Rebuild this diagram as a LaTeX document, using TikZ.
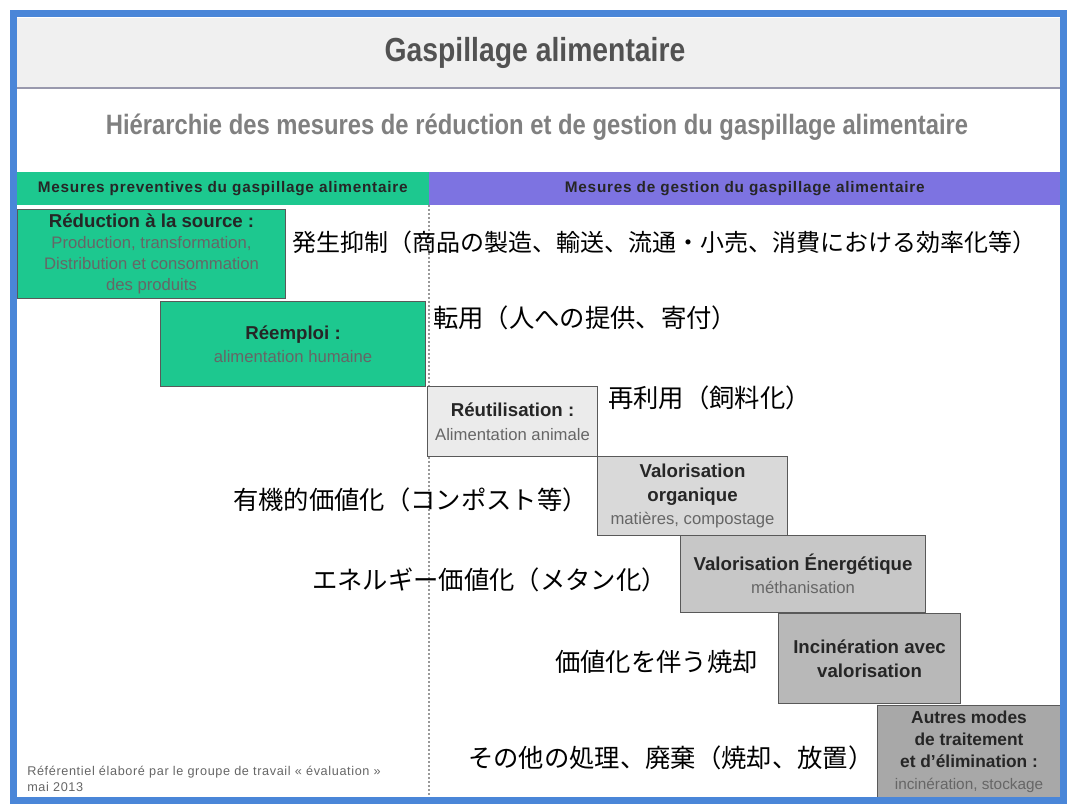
\documentclass[tikz,border=0pt]{standalone}
\usepackage{fontspec}
\setmainfont{Liberation Sans}
\newfontfamily\jpfont{Noto Sans CJK JP}
\newfontfamily\narrowfont[FakeStretch=0.85]{Liberation Sans}
\newfontfamily\spacedfont[LetterSpace=5]{Liberation Sans}
\usetikzlibrary{positioning}

\definecolor{framblue}{HTML}{4A86D8}
\definecolor{gaspgreen}{HTML}{1DC88F}
\definecolor{gasppurple}{HTML}{7D73E1}
\definecolor{titlegrey}{HTML}{F0F0F0}

\newcommand{\mainline}[1]{{\bfseries\color{black!85}#1}}
\newcommand{\subline}[1]{{\fontsize{12.5}{15}\selectfont\color{black!60}#1}}

\begin{document}
\begin{tikzpicture} [
    x=0.75pt, y=-0.75pt,
  ]

  \tikzstyle{stepbox} = [
    rectangle,
    anchor=north west,
    draw=black!65,
    line width=0.8pt,
    inner sep=0pt,
    align=center,
    font=\fontsize{14}{17.6}\selectfont,
  ]
  \tikzstyle{greenbox} = [
    stepbox,
    fill=gaspgreen,
  ]
  \tikzstyle{jplabel} = [
    anchor=west,
    inner sep=0pt,
    font=\jpfont\fontsize{19}{22}\selectfont,
  ]
  \tikzstyle{headband} = [
    rectangle,
    anchor=north west,
    inner sep=0pt,
    minimum height=24.75pt,
    font=\spacedfont\fontsize{11.5}{13}\selectfont\bfseries,
    text=black!85,
  ]

  \useasboundingbox (0,0) rectangle (1068,805);

  % frame and title band
  \fill[white] (13,14) rectangle (1063,800);
  \fill[titlegrey] (16,18) rectangle (1060,88);
  \draw[line width=1.5pt, color=blue!20!black!40] (16,88) -- (1060,88);
  \node (title) at (535,53)
    {\narrowfont\fontsize{25}{28}\selectfont\bfseries\color{black!68}Gaspillage alimentaire};
  \node (subtitle) at (537,127)
    {\narrowfont\fontsize{21}{24}\selectfont\bfseries\color{black!50}Hiérarchie des mesures de réduction et de gestion du gaspillage alimentaire};

  % header band
  \node[headband, fill=gaspgreen, minimum width=309.75pt] (prevhead) at (16,172)
    {Mesures preventives du gaspillage alimentaire};
  \node[headband, fill=gasppurple, minimum width=473.25pt] (gesthead) at (429,172)
    {Mesures de gestion du gaspillage alimentaire};

  % dotted separation
  \coordinate (septop) at (429,205);
  \coordinate (sepbot) at (429,797);
  \draw[black!40, line width=1.5pt, dash pattern=on 1.5pt off 1.5pt] (septop) -- (sepbot);

  % hierarchy steps
  \node[greenbox, minimum width=201pt, minimum height=66.75pt,
        font=\fontsize{14}{15.75}\selectfont] (reduc) at (17,209)
    {\mainline{Réduction à la source :}\\\subline{Production, transformation,}\\
     \subline{Distribution et consommation}\\\subline{des produits}};
  \node[greenbox, minimum width=198.75pt, minimum height=63.75pt] (reemploi) at (160,301)
    {\mainline{Réemploi :}\\\subline{alimentation humaine}};
  \node[stepbox, fill=black!8, minimum width=127.5pt, minimum height=52.5pt] (reutil) at (427,386)
    {\mainline{Réutilisation :}\\\subline{Alimentation animale}};
  \node[stepbox, fill=black!15, minimum width=142.5pt, minimum height=59.25pt] (valorg) at (597,456)
    {\mainline{Valorisation}\\\mainline{organique}\\\subline{matières, compostage}};
  \node[stepbox, fill=black!22, minimum width=183.75pt, minimum height=57.75pt] (valener) at (680,535)
    {\mainline{Valorisation Énergétique}\\\subline{méthanisation}};
  \node[stepbox, fill=black!28, minimum width=136.5pt, minimum height=67.5pt] (incin) at (778,613)
    {\mainline{Incinération avec}\\\mainline{valorisation}};
  \node[stepbox, fill=black!34, minimum width=137.25pt, minimum height=69pt,
        font=\fontsize{13}{16.5}\selectfont] (autres) at (877,705)
    {\mainline{Autres modes}\\\mainline{de traitement}\\\mainline{et d'élimination :}\\
     {\fontsize{11.5}{14}\selectfont\color{black!60}incinération, stockage}};

  % japanese labels
  \node[jplabel, font=\jpfont\fontsize{18}{21}\selectfont] (jpreduc) at (292,242)
    {発生抑制（商品の製造、輸送、流通・小売、消費における効率化等）};
  \node[jplabel] (jpreemp)   at (433,318) {転用（人への提供、寄付）};
  \node[jplabel] (jpreutil)  at (608,398) {再利用（飼料化）};
  \node[jplabel] (jpvalorg)  at (233,500) {有機的価値化（コンポスト等）};
  \node[jplabel] (jpvalener) at (312,580) {エネルギー価値化（メタン化）};
  \node[jplabel] (jpincin)   at (555,662) {価値化を伴う焼却};
  \node[jplabel] (jpautres)  at (468,758) {その他の処理、廃棄（焼却、放置）};

  % source note
  \node[anchor=north west, inner sep=0pt, align=left,
        font=\spacedfont\fontsize{9.5}{12}\selectfont, text=black!60] (source) at (27,766)
    {Référentiel élaboré par le groupe de travail « évaluation »\\mai 2013};

  \draw[framblue, line width=5.25pt] (13,14) rectangle (1063,800);

\end{tikzpicture}
\end{document}
